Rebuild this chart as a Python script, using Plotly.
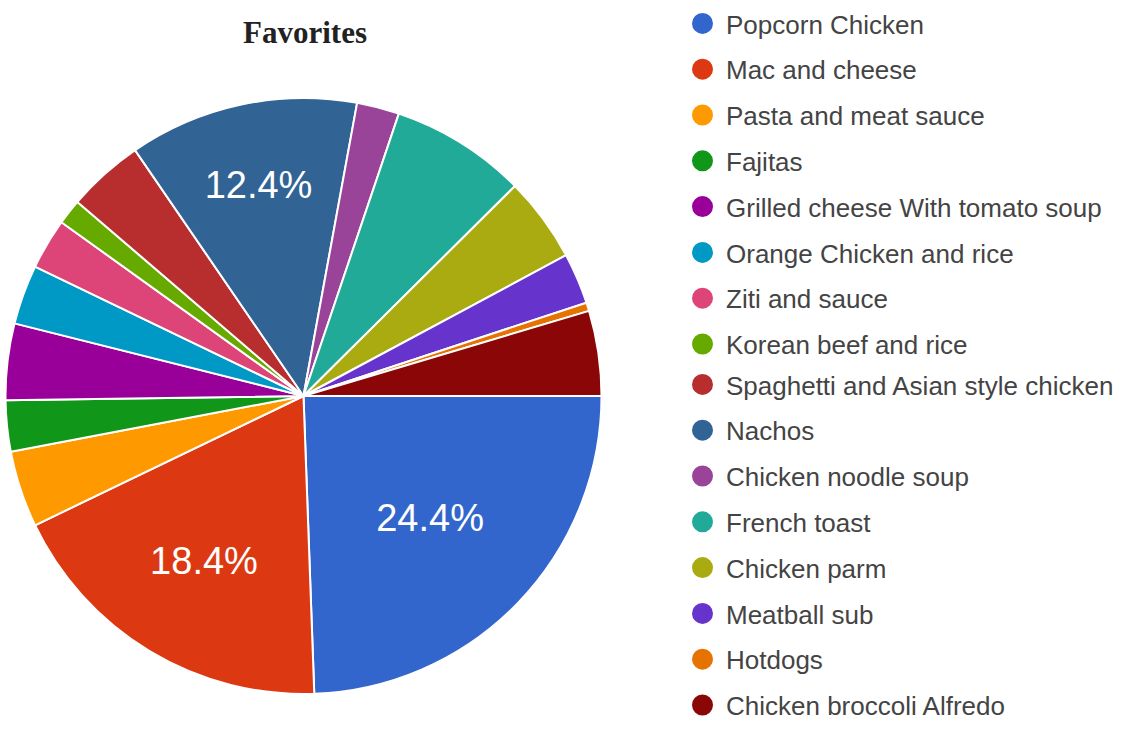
import plotly.graph_objects as go

categories = [
    "Popcorn Chicken", "Mac and cheese", "Pasta and meat sauce", "Fajitas",
    "Grilled cheese With tomato soup", "Orange Chicken and rice", "Ziti and sauce",
    "Korean beef and rice", "Spaghetti and Asian style chicken", "Nachos",
    "Chicken noodle soup", "French toast", "Chicken parm", "Meatball sub",
    "Hotdogs", "Chicken broccoli Alfredo",
]
counts = [53, 40, 9, 6, 9, 7, 6, 3, 9, 27, 5, 16, 10, 6, 1, 10]
colors = [
    "#3366cc", "#dc3912", "#ff9900", "#109618", "#990099", "#0099c6", "#dd4477",
    "#66aa00", "#b82e2e", "#316395", "#994499", "#22aa99", "#aaaa11", "#6633cc",
    "#e67300", "#8b0707",
]
title_text = "Favorites"

total = sum(counts)
labels_text = [f"{c / total * 100:.1f}%" if c / total > 0.1 else "" for c in counts]

W, H = 1135, 729
cx, cy, r = 303.5, 396, 298

fig = go.Figure()
fig.add_trace(go.Pie(
    labels=categories,
    values=counts,
    text=labels_text,
    textinfo="text",
    textposition="inside",
    insidetextorientation="horizontal",
    textfont=dict(family="Liberation Sans, Arial", size=38, color="white"),
    marker=dict(colors=colors, line=dict(color="white", width=2)),
    sort=False,
    direction="clockwise",
    rotation=90,
    showlegend=False,
    hoverinfo="label+percent",
    domain=dict(x=[(cx - r) / W, (cx + r) / W], y=[(H - cy - r) / H, (H - cy + r) / H]),
))

for i, (name, col) in enumerate(zip(categories, colors)):
    fig.add_trace(go.Scatter(
        x=[None], y=[None], mode="markers", name=name,
        marker=dict(symbol="circle", size=16, color=col, line=dict(color=col, width=5)),
        legendgroup=f"g{i}", showlegend=True, hoverinfo="skip",
        legend="legend" if i < 8 else "legend2",
    ))

legend_common = dict(
    x=679 / W, xanchor="left",
    font=dict(family="Liberation Sans, Arial", size=26, color="#444444"),
    tracegroupgap=9, itemsizing="trace", itemwidth=37, bgcolor="rgba(0,0,0,0)",
)

fig.update_layout(
    width=W, height=H,
    margin=dict(l=0, r=0, t=0, b=0),
    paper_bgcolor="white", plot_bgcolor="white",
    title=dict(text=f"<b>{title_text}</b>", x=305 / W, xanchor="center",
               y=1 - 32 / H, yanchor="middle", yref="container",
               font=dict(family="Liberation Serif, Times New Roman", size=31, color="#222222")),
    xaxis=dict(visible=False), yaxis=dict(visible=False),
    legend=dict(y=1, yanchor="top", **legend_common),
    legend2=dict(y=0, yanchor="bottom", **legend_common),
)

fig.write_html("out.html")
